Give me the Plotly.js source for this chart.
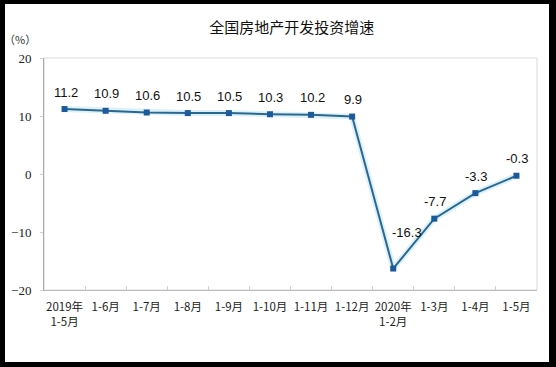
<!DOCTYPE html>
<html>
<head>
<meta charset="utf-8">
<script src="https://cdn.plot.ly/plotly-3.0.1.min.js"></script>
<style>
  html, body { margin: 0; padding: 0; background: #000; width: 556px; height: 367px; overflow: hidden; }
  #chart { position: absolute; left: 5px; top: 4px; width: 544px; height: 358px; background: #fff; }
</style>
</head>
<body>
<div id="chart"></div>
<script>
const categories = ['2019年<br>1-5月', '1-6月', '1-7月', '1-8月', '1-9月', '1-10月', '1-11月', '1-12月', '2020年<br>1-2月', '1-3月', '1-4月', '1-5月'];
const growth = [11.2, 10.9, 10.6, 10.5, 10.5, 10.3, 10.2, 9.9, -16.3, -7.7, -3.3, -0.3];
const yTicks = [-20, -10, 0, 10, 20];
const chartTitle = '全国房地产开发投资增速';
const unitLabel = '（%）';

const cjk = '"Noto Sans CJK SC", "Liberation Sans", sans-serif';
const num = '"Liberation Sans", Arial, sans-serif';

const traces = [
  {
    x: categories, y: growth, type: 'scatter', mode: 'lines',
    line: { color: 'rgba(170,220,242,0.4)', width: 6 },
    hoverinfo: 'skip', showlegend: false
  },
  {
    x: categories, y: growth, type: 'scatter', mode: 'lines+markers',
    line: { color: '#2a6890', width: 2 },
    marker: { symbol: 'square', size: 6, color: '#1c5a9c' },
    showlegend: false
  }
];

const annotations = growth.map((v, i) => {
  const isMin = v === Math.min(...growth);
  return {
    x: categories[i], y: v, xref: 'x', yref: 'y',
    text: v.toFixed(1), showarrow: false,
    font: { family: num, size: 13, color: '#111' },
    yshift: isMin ? 36 : 17,
    xshift: isMin ? 14 : 1
  };
});
annotations.push({
  xref: 'paper', yref: 'paper', x: -0.048, y: 1.0, yshift: 29,
  text: unitLabel, showarrow: false, xanchor: 'center',
  font: { family: cjk, size: 11, color: '#333' }
});

const layout = {
  width: 544, height: 358,
  margin: { l: 39, r: 12, t: 54, b: 72 },
  paper_bgcolor: '#fff', plot_bgcolor: '#fff',
  title: {
    text: chartTitle, x: 0.527, xanchor: 'center', y: 0.935, yanchor: 'middle',
    font: { family: cjk, size: 15, color: '#111' }
  },
  xaxis: {
    type: 'category', range: [-0.5, categories.length - 0.5],
    showgrid: false, zeroline: false,
    showline: true, linecolor: '#bdbdbd', linewidth: 1,
    ticks: 'inside', tickson: 'boundaries', ticklen: 4, tickcolor: '#cfcfcf',
    tickangle: 0, automargin: false, ticklabelstandoff: 6,
    tickfont: { family: cjk, size: 11.5, color: '#222' },
    fixedrange: true
  },
  yaxis: {
    range: [-20, 20], tickvals: yTicks,
    showgrid: false, zeroline: false,
    showline: true, linecolor: '#a8a8a8', linewidth: 1,
    ticks: 'outside', ticklen: 3, tickcolor: '#cfcfcf',
    ticklabelstandoff: 6,
    tickfont: { family: '"Liberation Serif", "DejaVu Serif", serif', size: 13, color: '#222' },
    fixedrange: true
  },
  shapes: [{
    type: 'rect', xref: 'paper', yref: 'paper', x0: 0, x1: 1, y0: 0, y1: 1,
    line: { color: '#d9d9d9', width: 1 }, layer: 'below'
  }],
  annotations: annotations
};

Plotly.newPlot('chart', traces, layout, { displayModeBar: false, staticPlot: true });
</script>
</body>
</html>
